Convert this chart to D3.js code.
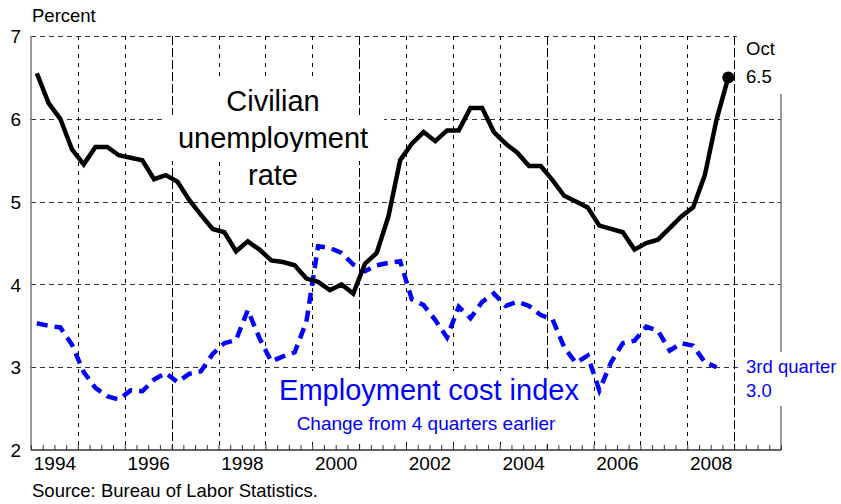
<!DOCTYPE html>
<html>
<head>
<meta charset="utf-8">
<script src="https://cdn.jsdelivr.net/npm/d3@7"></script>
<style>
  body { margin: 0; background: #fff; }
  text { font-family: "Liberation Sans", Arial, Helvetica, sans-serif; }
</style>
</head>
<body>
<div id="chart"></div>
<script>
// quarterly values, 1994 Q1 onwards
const unemployment = [
  6.55, 6.19, 6.00, 5.63, 5.45, 5.66, 5.66, 5.56, 5.53, 5.50, 5.27, 5.32,
  5.24, 5.02, 4.84, 4.67, 4.63, 4.40, 4.52, 4.42, 4.29, 4.27, 4.23, 4.07,
  4.03, 3.93, 4.00, 3.89, 4.25, 4.38, 4.82, 5.50, 5.70, 5.84, 5.73, 5.86,
  5.86, 6.13, 6.13, 5.84, 5.70, 5.59, 5.43, 5.43, 5.26, 5.07, 5.00, 4.93,
  4.71, 4.67, 4.63, 4.42, 4.50, 4.54, 4.68, 4.82, 4.93, 5.32, 5.99, 6.50
];
const eci = [
  3.53, 3.50, 3.48, 3.27, 2.94, 2.75, 2.65, 2.61, 2.72, 2.71, 2.85, 2.93,
  2.82, 2.92, 2.95, 3.16, 3.29, 3.33, 3.69, 3.35, 3.07, 3.13, 3.18, 3.55,
  4.46, 4.44, 4.38, 4.24, 4.16, 4.23, 4.26, 4.28, 3.82, 3.75, 3.57, 3.36,
  3.73, 3.59, 3.79, 3.89, 3.74, 3.79, 3.74, 3.63, 3.58, 3.24, 3.05, 3.14,
  2.72, 3.06, 3.29, 3.32, 3.49, 3.44, 3.20, 3.29, 3.26, 3.06, 3.00
];
const firstYear = 1994;
const yearLabels = [1994, 1996, 1998, 2000, 2002, 2004, 2006, 2008];
const yTicks = [2, 3, 4, 5, 6, 7];
const gridYears = [1995, 1996, 1997, 1998, 1999, 2000, 2001, 2002, 2003, 2004, 2005, 2006, 2007, 2008, 2009];
const longDashYears = [1997, 2001, 2005, 2009];
const unempLabel = ['Civilian', 'unemployment', 'rate'];

const width = 841, height = 504;
const m = { left: 31, right: 781, top: 36, bottom: 450 };

const x = d3.scaleLinear().domain([1994, 2010]).range([m.left, m.right]);
const y = d3.scaleLinear().domain([2, 7]).range([m.bottom, m.top]);
const qx = i => x(firstYear + (i + 0.5) / 4);

const svg = d3.select('#chart').append('svg')
    .attr('width', width)
    .attr('height', height);

// horizontal grid
svg.append('g')
    .selectAll('line')
    .data(yTicks.filter(d => d > 2))
    .enter().append('line')
    .attr('x1', m.left)
    .attr('x2', m.right)
    .attr('y1', d => Math.round(y(d)) + 0.5)
    .attr('y2', d => Math.round(y(d)) + 0.5)
    .attr('stroke', '#333')
    .attr('stroke-width', 1)
    .attr('stroke-dasharray', '5,4');

// vertical grid
svg.append('g')
    .selectAll('line')
    .data(gridYears)
    .enter().append('line')
    .attr('x1', d => Math.round(x(d)) + 0.5)
    .attr('x2', d => Math.round(x(d)) + 0.5)
    .attr('y1', y(7))
    .attr('y2', y(2))
    .attr('stroke', '#000')
    .attr('stroke-width', 1)
    .attr('stroke-dasharray', d => longDashYears.includes(d) ? '9,3' : '4,5');

// axis frame
svg.append('line')
    .attr('x1', m.left).attr('x2', m.left).attr('y1', m.top).attr('y2', m.bottom)
    .attr('stroke', '#777').attr('stroke-width', 1.5);
svg.append('line')
    .attr('x1', m.right).attr('x2', m.right).attr('y1', m.top).attr('y2', m.bottom)
    .attr('stroke', '#777').attr('stroke-width', 1.5);
svg.append('line')
    .attr('x1', m.left).attr('x2', m.right).attr('y1', m.bottom).attr('y2', m.bottom)
    .attr('stroke', '#333').attr('stroke-width', 1.5);

// quarterly ticks on the bottom axis
const qTicks = d3.axisBottom(x)
    .tickValues(d3.range(1994, 2010.01, 0.25))
    .tickSize(-5)
    .tickFormat('');
svg.append('g')
    .attr('transform', `translate(0,${m.bottom})`)
    .call(qTicks)
    .call(g => g.select('.domain').remove())
    .call(g => g.selectAll('line').attr('stroke', '#333'));

// year labels
const xLabels = d3.axisBottom(x)
    .tickValues(yearLabels.map(d => d + 0.5))
    .tickSize(0)
    .tickFormat(d => Math.floor(d));
svg.append('g')
    .attr('transform', `translate(0,${m.bottom})`)
    .call(xLabels)
    .call(g => g.select('.domain').remove())
    .call(g => g.selectAll('text')
        .attr('y', 20).attr('dy', 0)
        .attr('fill', '#000')
        .style('font-size', '19px')
        .style('font-family', '"Liberation Sans", Arial, sans-serif'));

// y labels
const yLabels = d3.axisLeft(y)
    .tickValues(yTicks)
    .tickSize(0)
    .tickPadding(10)
    .tickFormat(d3.format('d'));
svg.append('g')
    .attr('transform', `translate(${m.left},0)`)
    .call(yLabels)
    .call(g => g.select('.domain').remove())
    .call(g => g.selectAll('text')
        .attr('dy', '0.35em')
        .attr('fill', '#000')
        .style('font-size', '19px')
        .style('font-family', '"Liberation Sans", Arial, sans-serif'));

svg.append('text')
    .attr('x', 32).attr('y', 22)
    .style('font-size', '18.5px')
    .text('Percent');

svg.append('text')
    .attr('x', 32).attr('y', 497)
    .style('font-size', '18.5px')
    .text('Source: Bureau of Labor Statistics.');

// text with white backing, one rect per line
function labelLine(str, cx, by, size, color, pad, up, down) {
    const g = svg.append('g');
    const r = g.append('rect').attr('fill', '#fff');
    const t = g.append('text')
        .attr('x', cx).attr('y', by)
        .attr('text-anchor', 'middle')
        .attr('fill', color)
        .style('font-size', size + 'px')
        .text(str);
    const b = t.node().getBBox();
    r.attr('x', b.x - pad).attr('width', b.width + pad * 2)
        .attr('y', by - up).attr('height', up + down);
}

unempLabel.forEach((s, i) => labelLine(s, 273, 111 + i * 37, 29, '#000', 16, 33, 13));
labelLine('Employment cost index', 429, 400, 29, '#0000ff', 5, 29, 14);
labelLine('Change from 4 quarters earlier', 426, 430, 19, '#0000ff', 5, 16, 12);

// series
const line = d3.line()
    .x((d, i) => qx(i))
    .y(d => y(d));

svg.append('path')
    .datum(eci)
    .attr('d', line)
    .attr('fill', 'none')
    .attr('stroke', '#0000ff')
    .attr('stroke-width', 4.5)
    .attr('stroke-dasharray', '11,7');

svg.append('path')
    .datum(unemployment)
    .attr('d', line)
    .attr('fill', 'none')
    .attr('stroke', '#000')
    .attr('stroke-width', 4.5)
    .attr('stroke-linejoin', 'miter');

const last = unemployment.length - 1;
svg.append('circle')
    .attr('cx', qx(last))
    .attr('cy', y(unemployment[last]))
    .attr('r', 6)
    .attr('fill', '#000');

// end labels on the right
svg.append('rect')
    .attr('x', 737).attr('y', 0).attr('width', 104).attr('height', 94)
    .attr('fill', '#fff');
svg.append('text').attr('x', 746).attr('y', 55).style('font-size', '18.5px').text('Oct');
svg.append('text').attr('x', 746).attr('y', 83).style('font-size', '18.5px')
    .text(d3.format('.1f')(unemployment[last]));

svg.append('rect')
    .attr('x', 739).attr('y', 352).attr('width', 102).attr('height', 54)
    .attr('fill', '#fff');
svg.append('text').attr('x', 746).attr('y', 373).attr('fill', '#0000ff')
    .style('font-size', '18.5px').text('3rd quarter');
svg.append('text').attr('x', 746).attr('y', 397).attr('fill', '#0000ff')
    .style('font-size', '18.5px').text(d3.format('.1f')(eci[eci.length - 1]));
</script>
</body>
</html>
